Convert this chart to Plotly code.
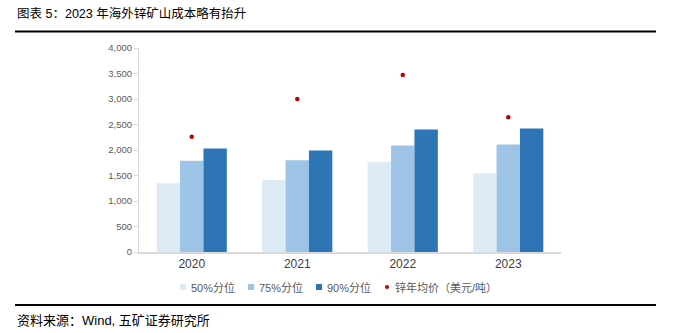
import plotly.graph_objects as go

years = ["2020", "2021", "2022", "2023"]
p50 = [1350, 1410, 1770, 1545]
p75 = [1790, 1800, 2090, 2110]
p90 = [2030, 1990, 2400, 2420]
zinc_price = [2260, 3000, 3470, 2640]
series_names = ["50%分位", "75%分位", "90%分位", "锌年均价（美元/吨）"]
y_ticks = [0, 500, 1000, 1500, 2000, 2500, 3000, 3500, 4000]

colors = ["#DDEBF7", "#9DC3E6", "#2E75B6", "#C00000"]
FONT = "Liberation Sans, Arial, Noto Sans CJK SC, sans-serif"

W, H = 678, 333
L, R, T, B = 139, 561, 48, 252  # plot area in px


def px_x(px):
    return (px - L) / (R - L)


def px_y(py):
    return (B - py) / (B - T)


fig = go.Figure()
for vals, c, n in zip([p50, p75, p90], colors[:3], series_names[:3]):
    fig.add_trace(go.Bar(x=years, y=vals, name=n, marker=dict(color=c, line=dict(width=0)),
                         showlegend=False))
fig.add_trace(go.Scatter(x=years, y=zinc_price, mode="markers", name=series_names[3],
                         marker=dict(color=colors[3], size=4.5), showlegend=False))

shapes = []
annotations = []
# custom legend
leg_x = [183, 251, 319, 387]
leg_y = 287
for xm, c, n, i in zip(leg_x, colors, series_names, range(4)):
    if i < 3:
        shapes.append(dict(type="rect", xref="paper", yref="paper",
                           x0=px_x(xm - 3), x1=px_x(xm + 3), y0=px_y(leg_y + 3), y1=px_y(leg_y - 3),
                           fillcolor=c, line=dict(width=0)))
    else:
        shapes.append(dict(type="circle", xref="paper", yref="paper",
                           x0=px_x(xm - 2), x1=px_x(xm + 2), y0=px_y(leg_y + 2), y1=px_y(leg_y - 2),
                           fillcolor=c, line=dict(width=0)))
    annotations.append(dict(text=n, xref="paper", yref="paper", x=px_x(xm + 6), y=px_y(leg_y),
                            xanchor="left", yanchor="middle", showarrow=False,
                            font=dict(family=FONT, size=11, color="#595959")))

# title and source
annotations.append(dict(text="图表 5：2023 年海外锌矿山成本略有抬升", xref="paper", yref="paper",
                        x=px_x(15), y=px_y(14), xanchor="left", yanchor="middle", showarrow=False,
                        font=dict(family=FONT, size=12.5, color="#000000")))
annotations.append(dict(text="资料来源：Wind, 五矿证券研究所", xref="paper", yref="paper",
                        x=px_x(15), y=px_y(320), xanchor="left", yanchor="middle", showarrow=False,
                        font=dict(family=FONT, size=13, color="#000000")))
for yy in [31.5, 305]:
    shapes.append(dict(type="line", xref="paper", yref="paper", x0=px_x(15), x1=px_x(656),
                       y0=px_y(yy), y1=px_y(yy), line=dict(color="#000000", width=2)))

fig.update_layout(
    width=W, height=H,
    margin=dict(l=L, r=W - R, t=T, b=H - B, pad=0),
    paper_bgcolor="white", plot_bgcolor="white",
    barmode="group", bargap=0.335, bargroupgap=0,
    shapes=shapes, annotations=annotations,
    showlegend=False,
    font=dict(family=FONT),
)
fig.update_xaxes(type="category", showline=True, linecolor="#D9D9D9", linewidth=1.5,
                 ticks="", tickfont=dict(size=12, color="#404040"), showgrid=False)
fig.update_yaxes(range=[0, 4000], tickvals=y_ticks, tickformat=",", showgrid=False,
                 showline=True, linecolor="#D9D9D9", linewidth=1, ticks="outside",
                 ticklen=4, tickcolor="#D9D9D9", tickfont=dict(size=9.5, color="#595959"),
                 zeroline=False)

fig.write_html("out.html")
